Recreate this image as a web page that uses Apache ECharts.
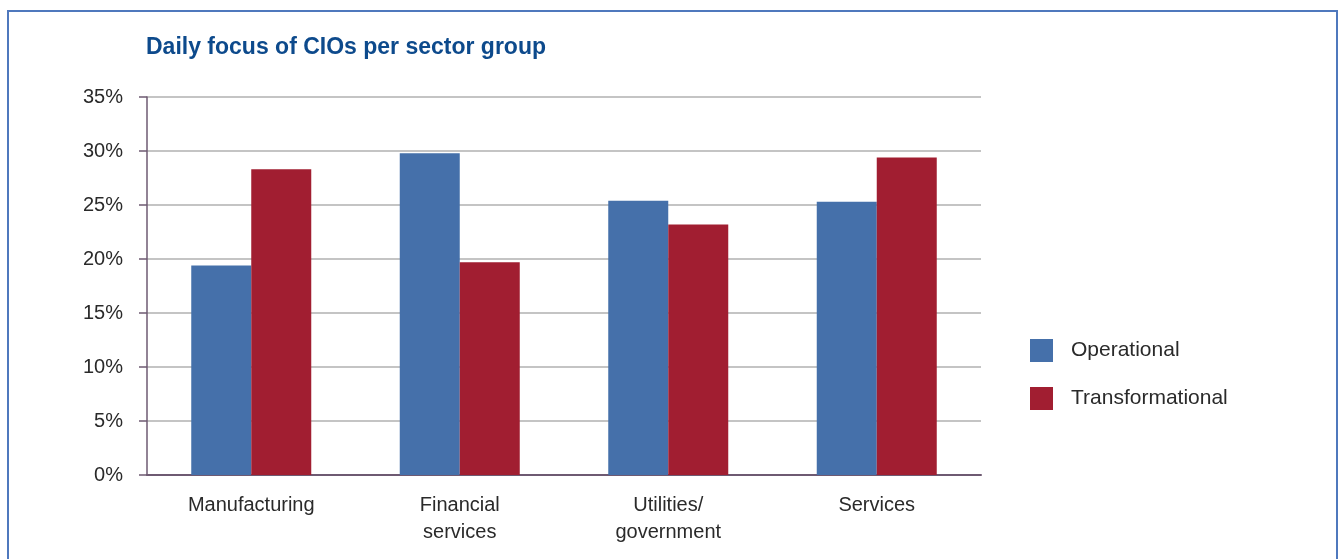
<!DOCTYPE html>
<html>
<head>
<meta charset="utf-8">
<style>
  html, body { margin: 0; padding: 0; background: #ffffff; }
  #chart { width: 1340px; height: 559px; }
</style>
<script src="https://cdn.jsdelivr.net/npm/echarts@6/dist/echarts.min.js"></script>
</head>
<body>
<div id="chart"></div>
<script>
// Share of CIO daily focus (%) by sector group
const sectors = ['Manufacturing', 'Financial\nservices', 'Utilities/\ngovernment', 'Services'];
const operational = [19.4, 29.8, 25.4, 25.3];
const transformational = [28.3, 19.7, 23.2, 29.4];
const seriesNames = ['Operational', 'Transformational'];
const yTicks = { min: 0, max: 35, step: 5 };

const chart = echarts.init(document.getElementById('chart'), null, { renderer: 'canvas' });

const font = '"Liberation Sans", Arial, Helvetica, sans-serif';
const axisColor = '#6e5a72';

chart.setOption({
  backgroundColor: '#ffffff',
  animation: false,
  title: {
    text: 'Daily focus of CIOs per sector group',
    left: 141,
    top: 31,
    textStyle: {
      fontFamily: font,
      fontSize: 23,
      fontWeight: 'bold',
      color: '#0d4a8c'
    }
  },
  graphic: [{
    type: 'rect',
    shape: { x: 8, y: 11, width: 1329, height: 600 },
    style: { fill: 'none', stroke: '#4f78bd', lineWidth: 2 },
    silent: true,
    z: -1
  }],
  legend: {
    data: seriesNames,
    orient: 'vertical',
    left: 1025,
    top: 334,
    icon: 'rect',
    itemWidth: 23,
    itemHeight: 23,
    itemGap: 25,
    textStyle: {
      fontFamily: font,
      fontSize: 21,
      color: '#2a2a2a',
      padding: [0, 0, 0, 13]
    }
  },
  grid: {
    left: 147,
    right: 359,
    top: 97,
    bottom: 84,
    containLabel: false
  },
  xAxis: {
    type: 'category',
    data: sectors,
    axisLine: { lineStyle: { color: axisColor, width: 2 } },
    axisTick: { show: false },
    axisLabel: {
      interval: 0,
      margin: 17,
      fontFamily: font,
      fontSize: 20,
      lineHeight: 27,
      color: '#2a2a2a'
    }
  },
  yAxis: {
    type: 'value',
    min: yTicks.min,
    max: yTicks.max,
    interval: yTicks.step,
    axisLine: { show: true, lineStyle: { color: axisColor, width: 1.5 } },
    axisTick: { show: true, length: 8, lineStyle: { color: axisColor, width: 1.5 } },
    axisLabel: {
      formatter: '{value}%',
      margin: 24,
      fontFamily: font,
      fontSize: 20,
      color: '#2a2a2a'
    },
    splitLine: { lineStyle: { color: '#c4c4c4', width: 2 } }
  },
  series: [
    {
      name: seriesNames[0],
      type: 'bar',
      data: operational,
      barWidth: 60,
      barGap: '0%',
      itemStyle: { color: '#4570aa' }
    },
    {
      name: seriesNames[1],
      type: 'bar',
      data: transformational,
      barWidth: 60,
      barGap: '0%',
      itemStyle: { color: '#a11e31' }
    }
  ]
});
</script>
</body>
</html>
